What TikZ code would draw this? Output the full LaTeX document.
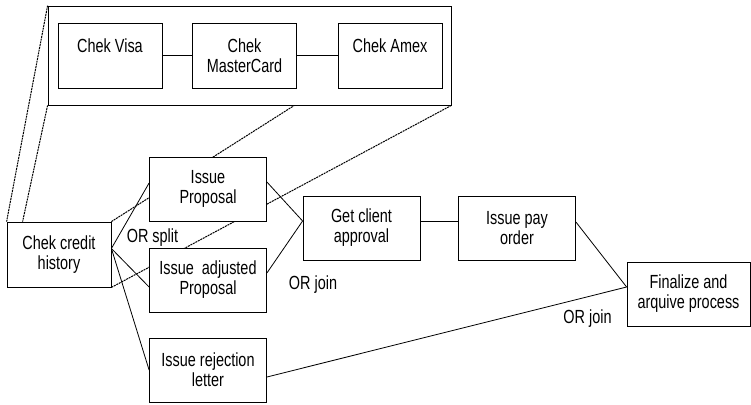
\documentclass[tikz,border=0pt]{standalone}
\usepackage{fontspec}
\setmainfont{Liberation Sans}
\newfontfamily\tallfont[FakeStretch=0.76]{Liberation Sans}
\usepackage{tikz}
\usetikzlibrary{positioning, backgrounds}

\begin{document}
\begin{tikzpicture}[x=1pt,y=-1pt,
        task/.style={rectangle,draw=black,fill=white,line width=0.8pt,inner sep=0pt,minimum width=104pt,minimum height=65pt,align=center,font=\tallfont\fontsize{19}{20}\selectfont},
        wide/.style={minimum width=117pt,minimum height=64pt},
        group/.style={rectangle,draw=black,fill=white,line width=0.8pt,inner sep=0pt,minimum width=403pt,minimum height=99pt},
        zoomline/.style={line width=1pt,dash pattern=on 2pt off 0.8pt},
        ortext/.style={inner sep=0pt,font=\tallfont\fontsize{19}{20}\selectfont},
        every edge/.style={draw,line width=0.8pt}]
        \useasboundingbox (0,0) rectangle (751,404);
        \node[group] (cont) at (249.5,55.5) {};
        \node[task] (visa)   at (110,55.5)   {Chek Visa\\~};
        \node[task] (master) at (244.5,55.5) {Chek\\MasterCard};
        \node[task] (amex)   at (390,55.5)   {Chek Amex\\~};
        \node[task] (credit) at (59,254.5)   {Chek credit\\history};
        \node[task,wide] (prop)  at (208,189)   {Issue\\Proposal};
        \node[task,wide] (adj)   at (208,280)   {Issue\ \ adjusted\\Proposal};
        \node[task,wide] (rej)   at (208,370)   {Issue rejection\\letter};
        \node[task,wide] (gca)   at (361.5,228) {Get client\\approval};
        \node[task,wide] (pay)   at (517,228)   {Issue pay\\order};
        \node[task,wide,minimum width=123pt] (fin) at (688.5,294) {Finalize and\\arquive process};

        \node[ortext] (split) at (152.5,238) {OR split};
        \node[ortext] (join1) at (313,285)   {OR join};
        \node[ortext] (join2) at (587.5,319) {OR join};

        \coordinate (cb) at (295,105);
        \begin{scope}[on background layer]
            \draw[zoomline] (cont.north west) -- (credit.north west);
            \draw[zoomline] (cont.south west) -- ([xshift=16pt]credit.north west);
            \draw[zoomline] (cb) -- (credit.north east);
            \draw[zoomline] (cont.south east) -- (credit.south east);
        \end{scope}

        \path (visa) edge (master)
              (master) edge (amex)
              ([yshift=6pt]credit.east) edge ([yshift=6pt]prop.west)
              ([yshift=6pt]credit.east) edge ([yshift=-7pt]adj.west)
              ([yshift=6pt]credit.east) edge (rej.west)
              ([yshift=7pt]prop.east) edge ([yshift=7pt]gca.west)
              ([yshift=7pt]adj.east) edge ([yshift=7pt]gca.west)
              ([yshift=7pt]gca.east) edge ([yshift=7pt]pay.west)
              ([yshift=6pt]pay.east) edge ([yshift=7pt]fin.west)
              ([yshift=-7pt]rej.east) edge ([yshift=7pt]fin.west);
    \end{tikzpicture}
\end{document}
